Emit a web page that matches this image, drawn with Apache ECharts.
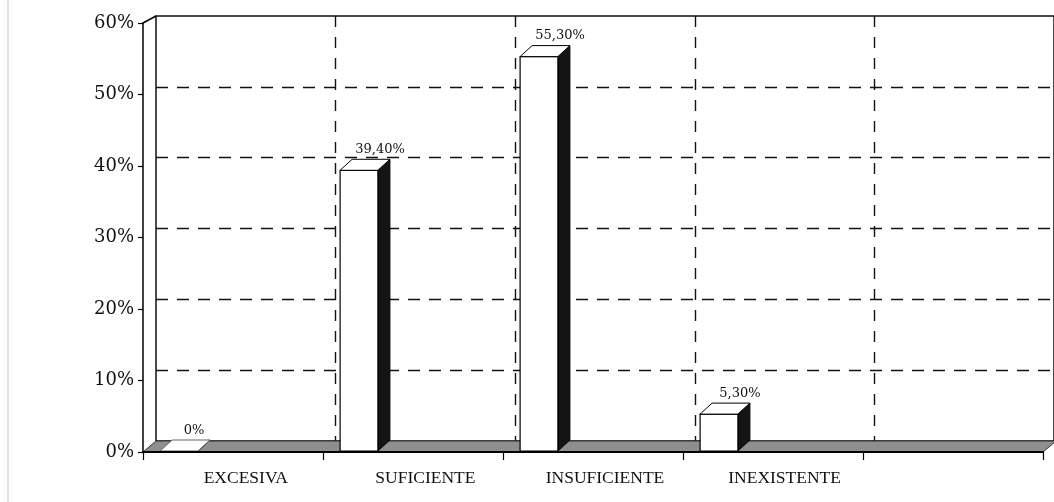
<!DOCTYPE html>
<html>
<head>
<meta charset="utf-8">
<script src="https://cdn.jsdelivr.net/npm/echarts@6/dist/echarts.min.js"></script>
<style>
html,body{margin:0;padding:0;background:#fff;}
#chart{width:1054px;height:502px;}
</style>
</head>
<body>
<div id="chart"></div>
<script>
const categories = ['EXCESIVA', 'SUFICIENTE', 'INSUFICIENTE', 'INEXISTENTE', ''];
const values = [0, 39.4, 55.3, 5.3];
const yTicks = [0, 10, 20, 30, 40, 50, 60];

const BAR_DX = 12, BAR_DY = -11;   // bar depth
const WALL_DX = 13, WALL_DY = -11; // wall depth
const serif = '"DejaVu Serif", "Liberation Serif", serif';
const catFont = '"Liberation Serif", "DejaVu Serif", serif';

function fmt(v) {
  return v === 0 ? '0%' : v.toFixed(2).replace('.', ',') + '%';
}

const chart = echarts.init(document.getElementById('chart'), null, {renderer: 'canvas'});

const option = {
  backgroundColor: '#fff',
  animation: false,
  graphic: [{
    type: 'line', shape: {x1: 8, y1: 0, x2: 8, y2: 502},
    style: {stroke: '#c8c8c8', lineWidth: 1}, silent: true
  }],
  grid: [
    {left: 143, right: 11, top: 23, bottom: 50},
    {left: 156, right: -2, top: 16, bottom: 61, show: true, borderColor: '#111', borderWidth: 1.5, backgroundColor: 'transparent', z: 0}
  ],
  xAxis: [
    {
      gridIndex: 0, type: 'category', data: categories, boundaryGap: true,
      axisLine: {show: true, lineStyle: {color: '#000', width: 2}},
      axisTick: {show: true, length: 8, lineStyle: {color: '#000', width: 1.2}},
      axisLabel: {show: false},
      splitLine: {show: false}, z: 5
    },
    {
      gridIndex: 1, type: 'category', data: categories, boundaryGap: true,
      axisLine: {show: false}, axisTick: {show: false},
      axisLabel: {show: true, margin: 28, color: '#111', fontFamily: catFont, fontSize: 17.5},
      splitLine: {show: true, showMinLine: false, showMaxLine: false, lineStyle: {color: '#111', type: [11, 10], width: 1.4}}
    }
  ],
  yAxis: [
    {
      gridIndex: 0, type: 'value', min: 0, max: 60, interval: 10,
      axisLine: {show: true, lineStyle: {color: '#000', width: 1.5}},
      axisTick: {show: true, length: 5, lineStyle: {color: '#000', width: 1.2}},
      axisLabel: {show: true, margin: 9, color: '#111', fontFamily: serif, fontSize: 18,
        formatter: v => yTicks.includes(v) ? v + '%' : ''},
      splitLine: {show: false}, z: 5
    },
    {
      gridIndex: 1, type: 'value', min: 0, max: 60, interval: 10,
      axisLine: {show: false}, axisTick: {show: false}, axisLabel: {show: false},
      splitLine: {show: true, showMinLine: false, showMaxLine: false, lineStyle: {color: '#111', type: [12, 9], width: 1.4}}
    }
  ],
  series: [
    {
      // floor and left-top corner joining front axis to back wall
      type: 'custom', xAxisIndex: 0, yAxisIndex: 0, z: 2,
      data: [[0]],
      renderItem(params, api) {
        const n = categories.length;
        const band = api.size([1, 0])[0];
        const l = api.coord([0, 0]);
        const r = api.coord([n - 1, 0]);
        const t = api.coord([0, 60]);
        const xl = l[0] - band / 2, xr = r[0] + band / 2, y0 = l[1];
        return {
          type: 'group',
          children: [
            {type: 'polygon', shape: {points: [[xl, y0], [xl + WALL_DX, y0 + WALL_DY], [xr + WALL_DX, y0 + WALL_DY], [xr, y0]]},
              style: {fill: '#8e8e8e', stroke: '#333', lineWidth: 1}},
            {type: 'line', shape: {x1: xl, y1: t[1], x2: xl + WALL_DX, y2: t[1] + WALL_DY + 4},
              style: {stroke: '#000', lineWidth: 1.5}}
          ]
        };
      }
    },
    {
      type: 'custom', xAxisIndex: 0, yAxisIndex: 0, z: 3,
      data: values.map((v, i) => [i, v]),
      renderItem(params, api) {
        const i = api.value(0), v = api.value(1);
        const band = api.size([1, 0])[0];
        const base = api.coord([i, 0]);
        const top = api.coord([i, v]);
        const x0 = base[0] - band / 2 + band * 0.095;
        const w = band * 0.21;
        const y0 = base[1] - 1, y1 = Math.min(top[1], y0);
        const children = [];
        children.push({type: 'polygon', shape: {points: [[x0 + w, y1], [x0 + w + BAR_DX, y1 + BAR_DY], [x0 + w + BAR_DX, y0 + BAR_DY], [x0 + w, y0]]},
          style: {fill: '#141414', stroke: '#000', lineWidth: 1}});
        if (y0 - y1 > 0.5) {
          children.push({type: 'rect', shape: {x: x0, y: y1, width: w, height: y0 - y1},
            style: {fill: '#fff', stroke: '#000', lineWidth: 1.2}});
        }
        children.push({type: 'polygon', shape: {points: [[x0, y1], [x0 + BAR_DX, y1 + BAR_DY], [x0 + w + BAR_DX, y1 + BAR_DY], [x0 + w, y1]]},
          style: {fill: '#fff', stroke: v === 0 ? '#666' : '#000', lineWidth: 1}});
        children.push({type: 'text', x: x0 + w / 2 + (v === 0 ? 15 : 21), y: y1 + BAR_DY - 3,
          style: {text: fmt(v), fill: '#111', font: '13px ' + serif, align: 'center', verticalAlign: 'bottom'}});
        return {type: 'group', children};
      }
    }
  ]
};
chart.setOption(option);
</script>
</body>
</html>
